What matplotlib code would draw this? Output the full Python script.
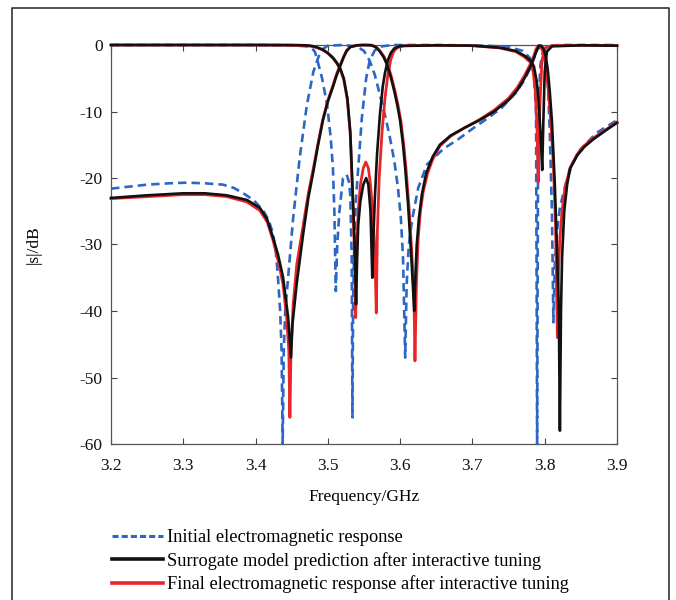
import matplotlib
matplotlib.use('Agg')
import matplotlib.pyplot as plt
from matplotlib.lines import Line2D

BLUE = '#2b67c6'
RED = '#e8262a'
BLACK = '#111111'

# initial EM response, transmission
INIT_S21_F = [3.20, 3.25, 3.28, 3.305, 3.33, 3.355, 3.37, 3.383, 3.397, 3.41, 3.418, 3.424,
              3.428, 3.431, 3.434, 3.436, 3.4375, 3.439, 3.441, 3.445, 3.452, 3.461, 3.471,
              3.48, 3.487, 3.493, 3.50, 3.52, 3.54, 3.55, 3.558, 3.565, 3.572, 3.58, 3.586,
              3.592, 3.597, 3.601, 3.604, 3.607, 3.609, 3.612, 3.617, 3.625, 3.637, 3.66,
              3.68, 3.70, 3.72, 3.74, 3.76, 3.77, 3.78, 3.785, 3.79, 3.795, 3.80, 3.804,
              3.807, 3.81, 3.812, 3.814, 3.817, 3.821, 3.83, 3.839, 3.85, 3.872, 3.90]
INIT_S21_DB = [-21.6, -21.0, -20.8, -20.7, -20.8, -21.0, -21.5, -22.3, -23.3, -24.8, -26.3, -28.3,
               -31.0, -35.0, -40.0, -46.0, -60.0, -46.0, -40.0, -35.0, -26.0, -17.0, -9.0,
               -4.0, -1.8, -0.6, -0.1, 0.0, -0.2, -0.9, -2.4, -4.5, -7.5, -11.0, -14.0,
               -17.5, -21.5, -26.0, -32.0, -47.0, -36.0, -30.0, -26.0, -21.5, -18.0, -15.6,
               -14.2, -12.6, -11.1, -9.5, -7.2, -5.6, -3.5, -2.0, -0.6, -0.3, -1.2, -5.0,
               -13.0, -25.0, -41.7, -33.0, -28.0, -24.4, -20.5, -17.7, -15.6, -13.2, -11.3]

# initial EM response, reflection
INIT_S11_F = [3.20, 3.40, 3.45, 3.47, 3.478, 3.482, 3.486, 3.492, 3.499, 3.504, 3.507, 3.509,
              3.511, 3.513, 3.516, 3.521, 3.526, 3.529, 3.531, 3.533, 3.534, 3.535, 3.537,
              3.539, 3.542, 3.547, 3.553, 3.558, 3.565, 3.575, 3.59, 3.65, 3.72, 3.75, 3.77,
              3.78, 3.785, 3.788, 3.7895, 3.791, 3.794, 3.798, 3.805, 3.82, 3.90]
INIT_S11_DB = [0.0, 0.0, -0.05, -0.2, -0.5, -1.0, -2.5, -5.0, -9.0, -14.0, -18.5, -25.0,
               -37.0, -30.0, -25.0, -20.0, -19.5, -20.5, -22.5, -32.0, -56.0, -38.0, -28.0,
               -23.0, -18.5, -11.0, -5.0, -2.3, -0.8, -0.2, 0.0, 0.0, -0.1, -0.3, -0.9,
               -2.0, -4.0, -10.0, -60.0, -10.0, -3.0, -0.8, -0.2, 0.0, 0.0]

# surrogate prediction, transmission
SURR_S21_F = [3.20, 3.25, 3.30, 3.33, 3.36, 3.388, 3.406, 3.416, 3.424, 3.431, 3.438, 3.445,
              3.449, 3.451, 3.457, 3.466, 3.473, 3.48, 3.486, 3.493, 3.50, 3.507, 3.512,
              3.517, 3.522, 3.526, 3.531, 3.54, 3.55, 3.56, 3.565, 3.568, 3.572, 3.577,
              3.582, 3.587, 3.592, 3.596, 3.60, 3.604, 3.607, 3.611, 3.615, 3.618, 3.6195,
              3.621, 3.623, 3.626, 3.63, 3.636, 3.645, 3.655, 3.67, 3.69, 3.71, 3.73, 3.75,
              3.762, 3.772, 3.78, 3.785, 3.789, 3.792, 3.795, 3.798, 3.801, 3.804, 3.807,
              3.81, 3.814, 3.817, 3.8195, 3.821, 3.8225, 3.824, 3.827, 3.831, 3.835, 3.845,
              3.855, 3.867, 3.885, 3.90]
SURR_S21_DB = [-23.0, -22.6, -22.3, -22.3, -22.6, -23.3, -24.5, -26.2, -28.9, -31.5, -34.9, -40.9,
               -47.0, -42.0, -35.8, -28.3, -23.0, -19.0, -15.3, -11.4, -8.5, -6.3, -4.6,
               -3.2, -1.8, -0.9, -0.3, -0.05, 0.0, -0.05, -0.25, -0.5, -1.0, -1.8,
               -3.0, -4.8, -7.0, -9.0, -11.4, -15.0, -18.5, -24.0, -31.0, -37.0, -40.0,
               -35.0, -30.0, -26.0, -22.5, -19.3, -16.8, -15.0, -13.6, -12.4, -11.3, -10.0, -8.3,
               -6.8, -5.0, -3.3, -2.0, -0.8, -0.1, -0.1, -0.5, -1.5, -3.5, -7.0,
               -11.5, -21.0, -31.0, -40.0, -58.0, -40.0, -32.0, -25.0, -21.0, -18.6, -16.6,
               -15.3, -14.2, -12.8, -11.7]

# surrogate prediction, reflection
SURR_S11_F = [3.20, 3.40, 3.45, 3.47, 3.478, 3.485, 3.493, 3.50, 3.507, 3.512, 3.517, 3.522,
              3.527, 3.531, 3.533, 3.535, 3.537, 3.539, 3.5405, 3.542, 3.545, 3.549, 3.553,
              3.556, 3.559, 3.5615, 3.563, 3.565, 3.568, 3.572, 3.576, 3.579, 3.583, 3.587,
              3.592, 3.60, 3.65, 3.70, 3.738, 3.76, 3.772, 3.78, 3.785, 3.789, 3.792, 3.795,
              3.7965, 3.798, 3.80, 3.803, 3.81, 3.85, 3.90]
SURR_S11_DB = [0.0, 0.0, 0.0, -0.05, -0.15, -0.35, -0.7, -1.2, -1.9, -2.6, -3.5, -5.0,
               -8.0, -13.0, -18.5, -24.0, -30.0, -39.0, -32.0, -27.0, -23.5, -21.0, -20.0,
               -21.0, -25.0, -35.0, -29.0, -23.0, -16.5, -10.5, -6.2, -4.2, -2.3, -1.2,
               -0.5, -0.15, -0.05, -0.1, -0.4, -0.9, -1.6, -2.3, -3.2, -5.5, -9.0, -15.0,
               -18.8, -12.0, -4.0, -1.0, -0.2, -0.05, -0.1]

# final EM response, transmission
FINAL_S21_F = [3.20, 3.25, 3.30, 3.33, 3.36, 3.388, 3.406, 3.416, 3.424, 3.431, 3.438, 3.443,
               3.446, 3.4475, 3.449, 3.452, 3.457, 3.466, 3.473, 3.48, 3.486, 3.493, 3.50,
               3.507, 3.512, 3.517, 3.522, 3.526, 3.531, 3.54, 3.55, 3.56, 3.566, 3.569,
               3.573, 3.578, 3.583, 3.588, 3.593, 3.597, 3.601, 3.605, 3.608, 3.612, 3.616,
               3.619, 3.6205, 3.6225, 3.625, 3.628, 3.632, 3.638, 3.645, 3.655, 3.67, 3.69,
               3.71, 3.73, 3.75, 3.762, 3.772, 3.78, 3.785, 3.788, 3.791, 3.794, 3.797,
               3.80, 3.803, 3.806, 3.809, 3.812, 3.815, 3.8175, 3.819, 3.821, 3.824, 3.828,
               3.835, 3.845, 3.855, 3.867, 3.885, 3.90]
FINAL_S21_DB = [-23.1, -22.8, -22.5, -22.5, -22.8, -23.6, -24.9, -26.6, -29.3, -32.3, -36.0, -41.0,
                -46.0, -56.0, -46.0, -39.0, -33.0, -27.0, -22.3, -18.5, -15.0, -11.2, -8.3,
                -6.1, -4.4, -3.0, -1.7, -0.8, -0.3, -0.05, 0.0, 0.0, -0.25, -0.5,
                -1.0, -1.8, -3.0, -4.8, -7.0, -9.0, -11.4, -15.0, -18.5, -24.0, -31.0,
                -37.0, -47.5, -36.0, -29.0, -25.0, -22.0, -19.3, -17.2, -15.2, -13.7, -12.4,
                -11.2, -9.8, -8.0, -6.4, -4.6, -2.9, -1.6, -0.6, -0.1, -0.2, -0.8,
                -2.2, -4.5, -8.0, -12.5, -18.0, -27.0, -44.0, -34.0, -29.0, -25.0, -21.5,
                -18.5, -16.4, -15.1, -14.0, -12.7, -11.6]

# final EM response, reflection
FINAL_S11_F = [3.20, 3.40, 3.45, 3.47, 3.478, 3.485, 3.493, 3.50, 3.507, 3.512, 3.517, 3.522,
               3.527, 3.531, 3.533, 3.535, 3.537, 3.5385, 3.540, 3.542, 3.545, 3.549, 3.5525,
               3.556, 3.559, 3.562, 3.565, 3.567, 3.5685, 3.571, 3.575, 3.579, 3.583, 3.587,
               3.591, 3.596, 3.605, 3.65, 3.70, 3.738, 3.76, 3.772, 3.78, 3.784, 3.787,
               3.7895, 3.791, 3.793, 3.796, 3.80, 3.81, 3.85, 3.90]
FINAL_S11_DB = [0.0, 0.0, -0.05, -0.1, -0.2, -0.4, -0.75, -1.25, -2.0, -2.7, -3.6, -5.2,
                -8.3, -13.5, -19.0, -25.0, -32.0, -41.0, -31.0, -25.0, -21.0, -18.5, -17.6,
                -18.5, -21.0, -25.0, -31.0, -40.3, -28.0, -20.0, -13.0, -8.0, -4.5, -2.2,
                -1.0, -0.4, -0.1, -0.05, -0.1, -0.45, -1.0, -1.8, -2.6, -4.0, -7.0,
                -13.0, -20.6, -10.0, -2.5, -0.5, -0.1, -0.05, -0.1]

X_TICKS = [3.2, 3.3, 3.4, 3.5, 3.6, 3.7, 3.8, 3.9]
Y_TICKS = [0, -10, -20, -30, -40, -50, -60]

LABELS = ['Initial electromagnetic response',
          'Surrogate model prediction after interactive tuning',
          'Final electromagnetic response after interactive tuning']

plt.rcParams['font.family'] = ['Liberation Serif', 'DejaVu Serif']
plt.rcParams['axes.unicode_minus'] = False

fig = plt.figure(figsize=(6.76, 6.0), dpi=100)
fig.patch.set_facecolor('white')
ax = fig.add_axes([111 / 676, 1 - 444 / 600, 506 / 676, 399 / 600])

dash_kw = dict(color=BLUE, lw=1.9, linestyle=(0, (3.2, 1.9)), clip_on=False, zorder=3)
ax.plot(INIT_S21_F, INIT_S21_DB, **dash_kw)
ax.plot(INIT_S11_F, INIT_S11_DB, **dash_kw)

ax.plot(FINAL_S21_F, FINAL_S21_DB, color=RED, lw=2.0, clip_on=False, zorder=4)
ax.plot(FINAL_S11_F, FINAL_S11_DB, color=RED, lw=2.0, clip_on=False, zorder=4)

ax.plot(SURR_S21_F, SURR_S21_DB, color=BLACK, lw=1.9, clip_on=False, zorder=5)
ax.plot(SURR_S11_F, SURR_S11_DB, color=BLACK, lw=1.9, clip_on=False, zorder=5)

ax.set_xlim(3.2, 3.9)
ax.set_ylim(-60, 0)
ax.set_xticks(X_TICKS)
ax.set_xticklabels([f'{v:.1f}' for v in X_TICKS])
ax.set_yticks(Y_TICKS)
ax.set_yticklabels([str(v) for v in Y_TICKS])
ax.tick_params(direction='in', length=4, width=0.8, top=True, right=True,
               labelsize=12.5, colors='#444444', labelcolor='#111111', pad=6)
ax.tick_params(axis='x', pad=10)
for sp in ax.spines.values():
    sp.set_color('#555555')
    sp.set_linewidth(0.9)

ax.set_xlabel('Frequency/GHz', fontsize=12.5, labelpad=11)
ax.set_ylabel('|s|/dB', fontsize=12.5, labelpad=27)

handles = [Line2D([], [], color=BLUE, lw=2.2, linestyle=(0, (2.0, 1.0))),
           Line2D([], [], color=BLACK, lw=2.6),
           Line2D([], [], color=RED, lw=2.6)]
fig.legend(handles, LABELS, loc='upper left', bbox_to_anchor=(112 / 676, 1 - 529 / 600),
           frameon=False, fontsize=13.2, handlelength=2.8, handletextpad=0.22,
           labelspacing=0.32, borderpad=0, borderaxespad=0)

# outer frame of the figure panel (open at the bottom)
fx0, fx1, fy1 = 12 / 676, 669 / 676, 1 - 8 / 600
fig.add_artist(Line2D([fx0, fx0, fx1, fx1], [0, fy1, fy1, 0], color='#333333', lw=1.2,
                      transform=fig.transFigure))

fig.savefig('out.png', dpi=100, facecolor='white')
